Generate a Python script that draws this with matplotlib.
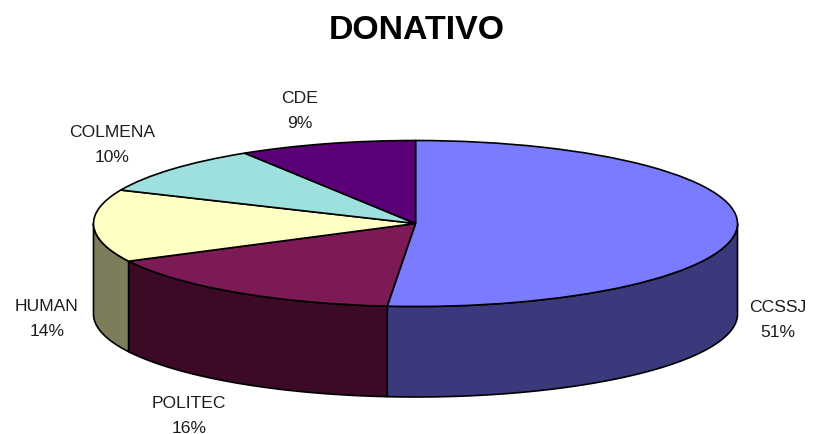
import numpy as np
import matplotlib
matplotlib.use("Agg")
import matplotlib.pyplot as plt

categories = ["CCSSJ", "POLITEC", "HUMAN", "COLMENA", "CDE"]
values = [51.4, 16.1, 14.1, 9.5, 8.9]
top_colors = ["#7B7BFF", "#7B1A55", "#FFFFC4", "#9EE0DE", "#5C0078"]
side_colors = ["#39397B", "#3C0A26", "#7D7D5C", "#4F7070", "#2E003C"]
title = "DONATIVO"

W, H = 816, 435
CX, CY = 415.5, 224.5   # ellipse centre in pixels
RX, RY = 322.0, 83.0    # ellipse radii in pixels
DEPTH = 90.5 / RY       # wall height in data units
EDGE = 1.2

# label centres (pixels): name line and percent line together
label_pos = {
    "CCSSJ": (778, 320),
    "POLITEC": (189, 416),
    "HUMAN": (47, 319),
    "COLMENA": (112, 145),
    "CDE": (300, 111),
}

plt.rcParams["font.family"] = ["Liberation Sans", "DejaVu Sans"]
fig = plt.figure(figsize=(W / 100, H / 100), dpi=100)
fig.patch.set_facecolor("white")
ax = fig.add_axes([0, 0, 1, 1])

# Top face: the library's pie, squashed into an ellipse by the axis limits
ax.pie(values, colors=top_colors, startangle=90, counterclock=False, radius=1,
       wedgeprops=dict(edgecolor="black", linewidth=EDGE, zorder=5))
ax.set_aspect("auto")
ax.set_xlim(-CX / RX, (W - CX) / RX)
ax.set_ylim((CY - H) / RY, CY / RY)
ax.axis("off")

# Side wall: only the part of each slice facing the viewer
fracs = np.array(values) / np.sum(values)
ends = np.cumsum(fracs) * 2 * np.pi     # clockwise from 12 o'clock
starts = ends - fracs * 2 * np.pi
for a0, a1, col in zip(starts, ends, side_colors):
    lo, hi = max(a0, np.pi / 2), min(a1, 3 * np.pi / 2)
    if hi <= lo:
        continue
    t = np.linspace(lo, hi, 120)
    x, y = np.sin(t), np.cos(t)
    xs = np.r_[x, x[::-1]]
    ys = np.r_[y, y[::-1] - DEPTH]
    ax.fill(xs, ys, facecolor=col, edgecolor="black", linewidth=EDGE,
            joinstyle="round", zorder=2)

fig.text(416.5 / W, 1 - 30.5 / H, title, ha="center", va="center",
         fontsize=24.4, fontweight="bold", color="black")
for name, v in zip(categories, values):
    px, py = label_pos[name]
    fig.text(px / W, 1 - py / H, f"{name}\n{v:.0f}%", ha="center", va="center",
             fontsize=12.6, color="#1c1c1c", linespacing=1.9)

fig.savefig("out.png", dpi=100, facecolor="white")
